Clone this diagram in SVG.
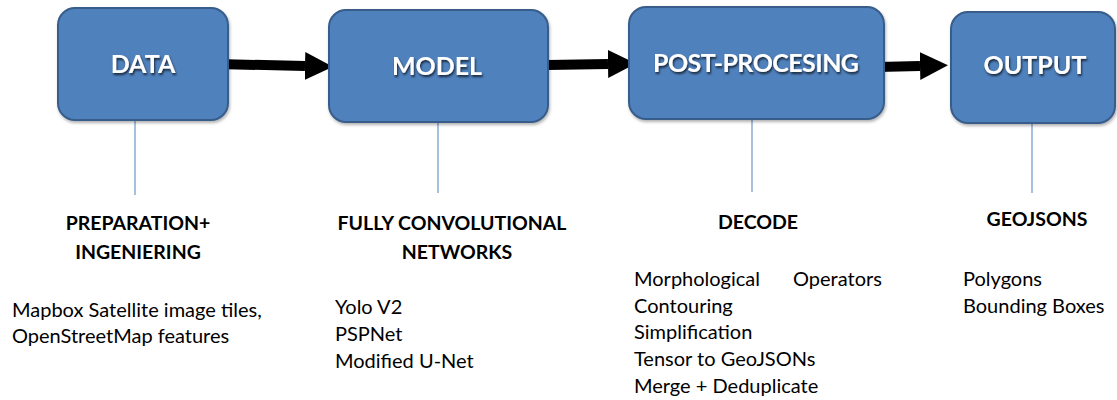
<svg xmlns="http://www.w3.org/2000/svg" width="1117" height="400" viewBox="0 0 1117 400">
<defs>
<filter id="boxShadow" x="-10%" y="-10%" width="130%" height="130%">
<feDropShadow dx="1" dy="2" stdDeviation="1.5" flood-color="#000" flood-opacity="0.3"/>
</filter>
<filter id="txtShadow" x="-10%" y="-30%" width="130%" height="170%">
<feDropShadow dx="1" dy="2" stdDeviation="1.2" flood-color="#000" flood-opacity="0.7"/>
</filter>
<marker id="head" markerUnits="userSpaceOnUse" markerWidth="30" markerHeight="30" refX="0" refY="14" orient="auto" viewBox="0 0 30 30">
<path d="M0,0 L28,14 L0,28 Z" fill="#000"/>
</marker>
</defs>
<style>
.box{fill:#4F81BD;stroke:#385D8A;stroke-width:2;filter:url(#boxShadow)}
.lbl{font-family:Lato,"Open Sans",sans-serif;font-weight:bold;font-size:25px;fill:#fff;text-anchor:middle;filter:url(#txtShadow)}
.hd{font-family:Lato,"Open Sans",sans-serif;font-weight:bold;font-size:19.5px;fill:#000;text-anchor:middle}
.bd{font-family:Lato,"Open Sans",sans-serif;font-size:20px;fill:#000}
.tick{stroke:#4F81BD;stroke-width:1;fill:none}
.arr{stroke:#000;stroke-width:10;fill:none}
</style>
<g id="connectors">
<path class="arr" d="M217,64 L305,66" marker-end="url(#head)"/>
<path class="arr" d="M548,65 L608,64" marker-end="url(#head)"/>
<path class="arr" d="M878,67 L920,66" marker-end="url(#head)"/>
<line class="tick" x1="135" y1="121" x2="135" y2="195"/>
<line class="tick" x1="438" y1="123" x2="438" y2="193"/>
<line class="tick" x1="752" y1="120" x2="752" y2="192"/>
<line class="tick" x1="1032" y1="124" x2="1032" y2="193"/>
</g>
<g id="data">
<rect class="box" x="58" y="8" width="170" height="112" rx="17"/>
<text class="lbl" x="143" y="73">DATA</text>
</g>
<g id="model">
<rect class="box" x="329" y="10" width="219" height="112" rx="17"/>
<text class="lbl" x="437" y="75">MODEL</text>
</g>
<g id="post">
<rect class="box" x="629" y="7" width="255" height="112" rx="17"/>
<text class="lbl" x="756" y="72" textLength="206">POST-PROCESING</text>
</g>
<g id="output">
<rect class="box" x="951" y="12" width="164" height="111" rx="17"/>
<text class="lbl" x="1035" y="74">OUTPUT</text>
</g>
<g id="data-notes">
<text class="hd" x="138" y="230">PREPARATION+</text>
<text class="hd" x="138" y="259">INGENIERING</text>
<text class="bd" x="12" y="317">Mapbox Satellite  image tiles,</text>
<text class="bd" x="12" y="343">OpenStreetMap features</text>
</g>
<g id="model-notes">
<text class="hd" x="452" y="230">FULLY CONVOLUTIONAL</text>
<text class="hd" x="457" y="259">NETWORKS</text>
<text class="bd" x="335" y="314">Yolo V2</text>
<text class="bd" x="335" y="341">PSPNet</text>
<text class="bd" x="335" y="368">Modified U-Net</text>
</g>
<g id="post-notes">
<text class="hd" x="758" y="229">DECODE</text>
<text class="bd" x="634" y="286">Morphological</text>
<text class="bd" x="793" y="286">Operators</text>
<text class="bd" x="634" y="313">Contouring</text>
<text class="bd" x="634" y="339">Simplification</text>
<text class="bd" x="634" y="366">Tensor to GeoJSONs</text>
<text class="bd" x="634" y="393">Merge + Deduplicate</text>
</g>
<g id="output-notes">
<text class="hd" x="1037" y="226">GEOJSONS</text>
<text class="bd" x="963" y="286">Polygons</text>
<text class="bd" x="963" y="313">Bounding Boxes</text>
</g>
</svg>
